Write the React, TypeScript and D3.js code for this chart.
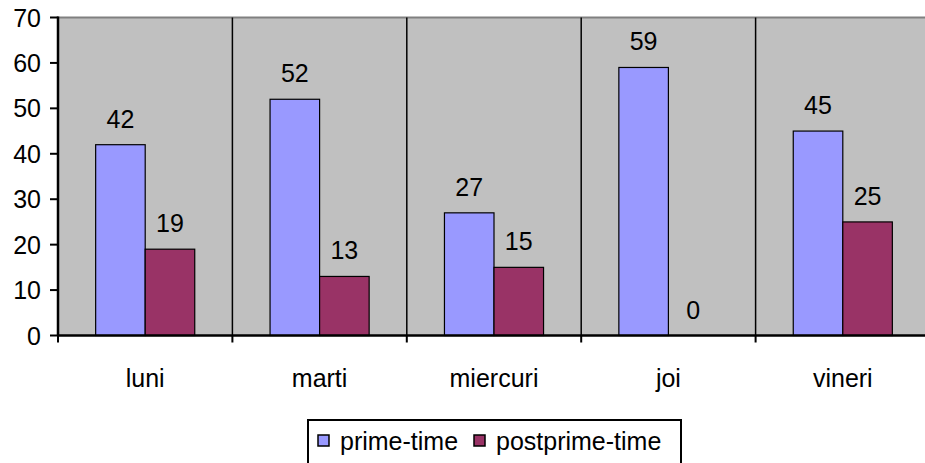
import React from "react";
import * as d3 from "d3";

const categories = ["luni", "marti", "miercuri", "joi", "vineri"];
const primeTime = [42, 52, 27, 59, 45];
const postprimeTime = [19, 13, 15, 0, 25];
const yTicks = [0, 10, 20, 30, 40, 50, 60, 70];
const seriesNames = ["prime-time", "postprime-time"];
const seriesColors = ["#9999FF", "#993366"];

export default function App() {
  const W = 925, H = 463;
  const left = 58, right = 930, top = 17.5, bottom = 335.5;
  const font = "Liberation Sans, Arial, sans-serif";
  const fs = 25;

  const x0 = d3.scaleBand<string>().domain(categories).range([left, right]).paddingInner(0).paddingOuter(0);
  const inner = d3.scaleBand<number>().domain([0, 1]).range([0, x0.bandwidth()]).paddingOuter(0.76).paddingInner(0);
  const y = d3.scaleLinear().domain([0, 70]).range([bottom, top]);
  const series = [primeTime, postprimeTime];

  return (
    <svg width={W} height={H} style={{ position: "absolute", left: 0, top: 0 }} fontFamily={font}>
      <rect x={left} y={top} width={right - left} height={bottom - top} fill="#C0C0C0" />
      <line x1={left} x2={right} y1={top} y2={top} stroke="#808080" strokeWidth={2} />
      {categories.slice(1).map((c) => (
        <line key={c} x1={x0(c)!} x2={x0(c)!} y1={top} y2={bottom} stroke="#000" strokeWidth={1.5} />
      ))}
      {categories.map((c, ci) =>
        series.map((s, si) => {
          const bx = x0(c)! + inner(si)!;
          const v = s[ci];
          return (
            <g key={c + si}>
              {v > 0 && (
                <rect x={bx} y={y(v)} width={inner.bandwidth()} height={bottom - y(v)} fill={seriesColors[si]} stroke="#000" strokeWidth={1.2} />
              )}
              <text x={bx + inner.bandwidth() / 2} y={y(v) - 17} textAnchor="middle" fontSize={fs} fill="#000">{v}</text>
            </g>
          );
        })
      )}
      <line x1={left} x2={left} y1={top - 1} y2={bottom} stroke="#000" strokeWidth={2.5} />
      <line x1={left} x2={right} y1={bottom} y2={bottom} stroke="#000" strokeWidth={2.5} />
      {yTicks.map((t) => (
        <g key={t}>
          <line x1={left - 8} x2={left} y1={y(t)} y2={y(t)} stroke="#000" strokeWidth={2} />
          <text x={41} y={y(t) + 9} textAnchor="end" fontSize={fs} fill="#000">{t}</text>
        </g>
      ))}
      {categories.map((c) => (
        <g key={c}>
          <line x1={x0(c)!} x2={x0(c)!} y1={bottom} y2={bottom + 7} stroke="#000" strokeWidth={2} />
          <text x={x0(c)! + x0.bandwidth() / 2} y={387} textAnchor="middle" fontSize={fs} fill="#000">{c}</text>
        </g>
      ))}
      <rect x={308} y={420} width={373} height={44} fill="#fff" stroke="#000" strokeWidth={2} />
      {seriesNames.map((n, i) => {
        const lx = i === 0 ? 318 : 474;
        return (
          <g key={n}>
            <rect x={lx} y={435} width={11} height={11} fill={seriesColors[i]} stroke="#000" strokeWidth={1.5} />
            <text x={lx + 22} y={450} fontSize={fs} fill="#000">{n}</text>
          </g>
        );
      })}
    </svg>
  );
}
